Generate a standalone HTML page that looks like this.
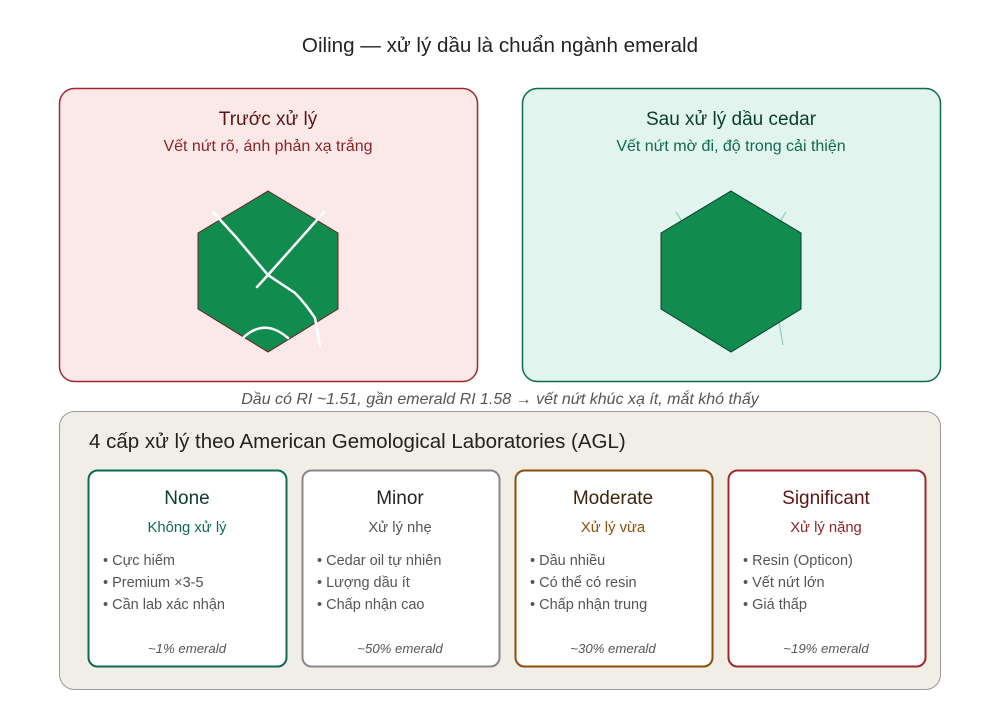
<!DOCTYPE html>
<html><head><meta charset="utf-8"><style>
html,body{margin:0;padding:0;background:#fff}
svg{display:block;font-family:"Liberation Sans","DejaVu Sans",sans-serif}
</style></head><body>
<svg width="1000" height="705" viewBox="0 0 1000 705" xmlns="http://www.w3.org/2000/svg">
<rect width="1000" height="705" fill="#fff"/>
<text x="500" y="52" font-size="20.6" text-anchor="middle" fill="#222">Oiling — xử lý dầu là chuẩn ngành emerald</text>

<rect x="59.5" y="88.5" width="418" height="293" rx="15" fill="#fbe9e9" stroke="#a3282c" stroke-width="1.5"/>
<text x="268" y="125" font-size="19" text-anchor="middle" fill="#5c1414">Trước xử lý</text>
<text x="268" y="151" font-size="16" text-anchor="middle" fill="#8c2424">Vết nứt rõ, ánh phản xạ trắng</text>
<polygon points="268,191 338,233 338,309 268,352 198,309 198,233" fill="#118c4e" stroke="#6b2020" stroke-width="1"/>
<g fill="none" stroke="#fff" stroke-width="2.5" stroke-linecap="round">
<path d="M213,212 L235,236 Q252,256 268,275 L295,293 Q305,303 315,318 L320,346"/>
<path d="M324,212 L268,275 L257,287"/>
<path d="M244,337 Q265,318 288,338"/>
</g>

<rect x="522.5" y="88.5" width="418" height="293" rx="15" fill="#e1f4ee" stroke="#0e6b4f" stroke-width="1.5"/>
<text x="731" y="125" font-size="19" text-anchor="middle" fill="#0a3d2c">Sau xử lý dầu cedar</text>
<text x="731" y="151" font-size="16" text-anchor="middle" fill="#0e6b4f">Vết nứt mờ đi, độ trong cải thiện</text>
<g stroke="#88d4b4" stroke-width="1.2">
<line x1="676" y1="212" x2="683" y2="223"/>
<line x1="786" y1="212" x2="779" y2="223"/>
<line x1="779" y1="322" x2="783" y2="345"/>
</g>
<polygon points="731,191 801,233 801,309 731,352 661,309 661,233" fill="#118c4e" stroke="#0a3d2c" stroke-width="1"/>

<text x="500" y="404" font-size="16" font-style="italic" text-anchor="middle" fill="#555">Dầu có RI ~1.51, gần emerald RI 1.58 → vết nứt khúc xạ ít, mắt khó thấy</text>

<rect x="59.5" y="411.5" width="881" height="278" rx="15" fill="#f1eee7" stroke="#999" stroke-width="1"/>
<text x="89" y="448" font-size="20.5" fill="#222">4 cấp xử lý theo American Gemological Laboratories (AGL)</text>

<g font-size="14.5">
<rect x="88.5" y="470.5" width="198" height="196" rx="9" fill="#fff" stroke="#0e6b4f" stroke-width="2"/>
<text x="187" y="504" font-size="19" text-anchor="middle" fill="#0a3d2c">None</text>
<text x="187" y="532" font-size="14.8" text-anchor="middle" fill="#0e6b4f">Không xử lý</text>
<text x="103" y="565" fill="#555">• Cực hiếm</text>
<text x="103" y="587" fill="#555">• Premium ×3-5</text>
<text x="103" y="609" fill="#555">• Cần lab xác nhận</text>
<text x="187" y="653" font-size="13.2" font-style="italic" text-anchor="middle" fill="#555">~1% emerald</text>

<rect x="302.5" y="470.5" width="197" height="196" rx="9" fill="#fff" stroke="#888" stroke-width="2"/>
<text x="400" y="504" font-size="19" text-anchor="middle" fill="#222">Minor</text>
<text x="400" y="532" font-size="14.8" text-anchor="middle" fill="#555">Xử lý nhẹ</text>
<text x="317" y="565" fill="#555">• Cedar oil tự nhiên</text>
<text x="317" y="587" fill="#555">• Lượng dầu ít</text>
<text x="317" y="609" fill="#555">• Chấp nhận cao</text>
<text x="400" y="653" font-size="13.2" font-style="italic" text-anchor="middle" fill="#555">~50% emerald</text>

<rect x="515.5" y="470.5" width="197" height="196" rx="9" fill="#fff" stroke="#8a4f0a" stroke-width="2"/>
<text x="613" y="504" font-size="19" text-anchor="middle" fill="#3d2408">Moderate</text>
<text x="613" y="532" font-size="14.8" text-anchor="middle" fill="#8a4f0a">Xử lý vừa</text>
<text x="530" y="565" fill="#555">• Dầu nhiều</text>
<text x="530" y="587" fill="#555">• Có thể có resin</text>
<text x="530" y="609" fill="#555">• Chấp nhận trung</text>
<text x="613" y="653" font-size="13.2" font-style="italic" text-anchor="middle" fill="#555">~30% emerald</text>

<rect x="728.5" y="470.5" width="197" height="196" rx="9" fill="#fff" stroke="#a3282c" stroke-width="2"/>
<text x="826" y="504" font-size="19" text-anchor="middle" fill="#5c1414">Significant</text>
<text x="826" y="532" font-size="14.8" text-anchor="middle" fill="#8c2424">Xử lý nặng</text>
<text x="743" y="565" fill="#555">• Resin (Opticon)</text>
<text x="743" y="587" fill="#555">• Vết nứt lớn</text>
<text x="743" y="609" fill="#555">• Giá thấp</text>
<text x="826" y="653" font-size="13.2" font-style="italic" text-anchor="middle" fill="#555">~19% emerald</text>
</g>
</svg>
</body></html>
